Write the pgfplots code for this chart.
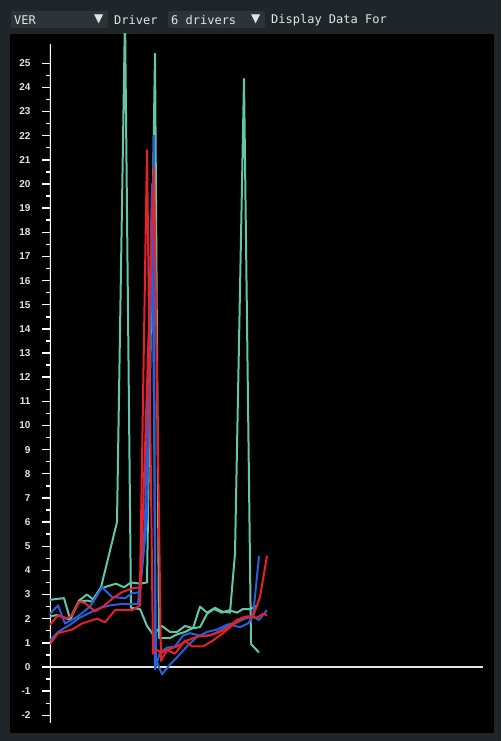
\documentclass[border=0pt]{standalone}
\usepackage{pgfplots}
\pgfplotsset{compat=1.18}
\usepackage{fontspec}
\setmainfont{Liberation Sans}
\newfontfamily\monofont{DejaVu Sans Mono}
\newfontfamily\symfont{DejaVu Sans}
\definecolor{bgouter}{HTML}{1F2629}
\definecolor{boxfill}{HTML}{2C3438}
\definecolor{labelgray}{HTML}{E4E4E4}
\definecolor{tealc}{HTML}{62C6A8}
\definecolor{bluec}{HTML}{2A5FD8}
\definecolor{redc}{HTML}{E8202A}
\begin{document}
\begin{tikzpicture}[x=1pt,y=1pt]
% frame and top bar
\fill[bgouter] (0,0) rectangle (501,741);
\fill[black] (10,8) rectangle (494,707);
\fill[boxfill, rounded corners=2pt] (11,713) rectangle (108,730);
\fill[boxfill, rounded corners=2pt] (168,713) rectangle (265,730);
\begin{scope}[every node/.style={inner sep=0pt, anchor=west, text=labelgray}]
\node at (14,721) {\monofont\fontsize{12}{12}\selectfont VER};
\node at (94,721.5) {\symfont\fontsize{12}{12}\selectfont ▼};
\node at (114,721) {\monofont\fontsize{12}{12}\selectfont Driver};
\node at (171,721) {\monofont\fontsize{12}{12}\selectfont 6 drivers};
\node at (251,721.5) {\symfont\fontsize{12}{12}\selectfont ▼};
\node at (271,721) {\monofont\fontsize{12}{12}\selectfont Display Data For};
\end{scope}
\begin{axis}[
  at={(50pt,8pt)}, anchor=south west, scale only axis,
  width=444pt, height=699pt,
  xmin=50, xmax=494, ymin=-2.733, ymax=26.21,
  axis x line=none, axis y line=left,
  y axis line style={draw=none},
  ytick={-2,-1,...,25}, minor y tick num=1,
  tick align=outside, major tick length=8pt, minor tick length=4pt,
  every tick/.style={white, line width=1.4pt},
  yticklabel style={font=\bfseries\fontsize{10}{10}\selectfont, text=labelgray, xshift=-8pt},
  /pgf/number format/assume math mode=true,
  every axis plot/.append style={line width=2pt, line join=round},
  ]
  \draw[white, line width=1.8pt] (axis cs:50,-2.32) -- (axis cs:50,25.8);
  \draw[white!90!black, line width=1.8pt] (axis cs:50,0) -- (axis cs:483,0);
  % teal
  \addplot[tealc] coordinates {(50,2.78)(57,2.82)(64,2.85)(70,2.0)(79,2.75)(87,3.0)(93,2.8)(101,3.3)(117,6.0)(125,27)(131,2.45)(140,2.4)(147,1.7)(153,1.35)(162,1.7)(170,1.45)(177,1.45)(185,1.7)(193,1.6)(200,2.5)(207,2.25)(215,2.45)(222,2.3)(230,2.25)(235,4.7)(244,24.35)(251,0.95)(259,0.6)};
  \addplot[tealc] coordinates {(50,2.1)(57,2.15)(64,2.05)(70,1.95)(79,2.7)(87,2.75)(93,2.7)(101,3.25)(108,3.35)(116,3.45)(124,3.3)(131,3.5)(140,3.45)(147,3.5)(155,25.4)(159,1.2)(170,1.2)(177,1.35)(185,1.45)(192,1.6)(200,1.65)(207,2.2)(214,2.4)(222,2.25)(229,2.35)(237,2.25)(243,2.4)(250,2.4)(258,2.55)};
  % blue
  \addplot[bluec] coordinates {(50,2.2)(58,2.55)(65,1.8)(77,2.07)(90,2.5)(102,3.3)(112,2.9)(125,2.85)(132,3.05)(140,3.1)(147,6.2)(154,22)(155,-0.1)(160,0.6)(167,0.8)(175,0.85)(183,1.3)(190,1.4)(200,1.3)(210,1.3)(220,1.5)(230,1.75)(240,1.65)(248,1.8)(253,2.1)(259,4.6)};
  \addplot[bluec] coordinates {(50,1.1)(58,1.45)(70,1.75)(80,2.05)(90,2.25)(100,2.45)(110,2.55)(120,2.6)(130,2.6)(138,2.6)(145,6)(152,20)(156,0.3)(162,-0.3)(170,0.1)(177,0.4)(187,0.85)(197,1.25)(207,1.45)(217,1.55)(227,1.75)(237,1.85)(245,2.0)(252,2.1)(259,1.95)(267,2.35)};
  % red
  \addplot[redc] coordinates {(50,1.75)(58,2.15)(67,2.0)(72,2.15)(79,2.7)(85,2.65)(95,2.3)(103,2.5)(113,2.85)(122,3.1)(132,3.25)(140,3.3)(147,21.4)(153,0.55)(157,0.7)(162,0.6)(167,0.7)(175,0.55)(185,1.1)(192,0.85)(203,0.85)(213,1.1)(223,1.4)(233,1.75)(243,2.05)(253,2.1)(260,2.9)(267,4.6)};
  \addplot[redc] coordinates {(50,0.95)(58,1.4)(72,1.55)(82,1.8)(97,2.0)(105,1.85)(115,2.35)(125,2.35)(132,2.35)(140,2.55)(154,20.7)(161,0.25)(167,0.7)(177,0.85)(187,1.1)(197,1.25)(207,1.3)(217,1.4)(227,1.6)(237,1.95)(247,2.1)(257,2.05)(263,2.2)(267,2.15)};
\end{axis}
\end{tikzpicture}
\end{document}
